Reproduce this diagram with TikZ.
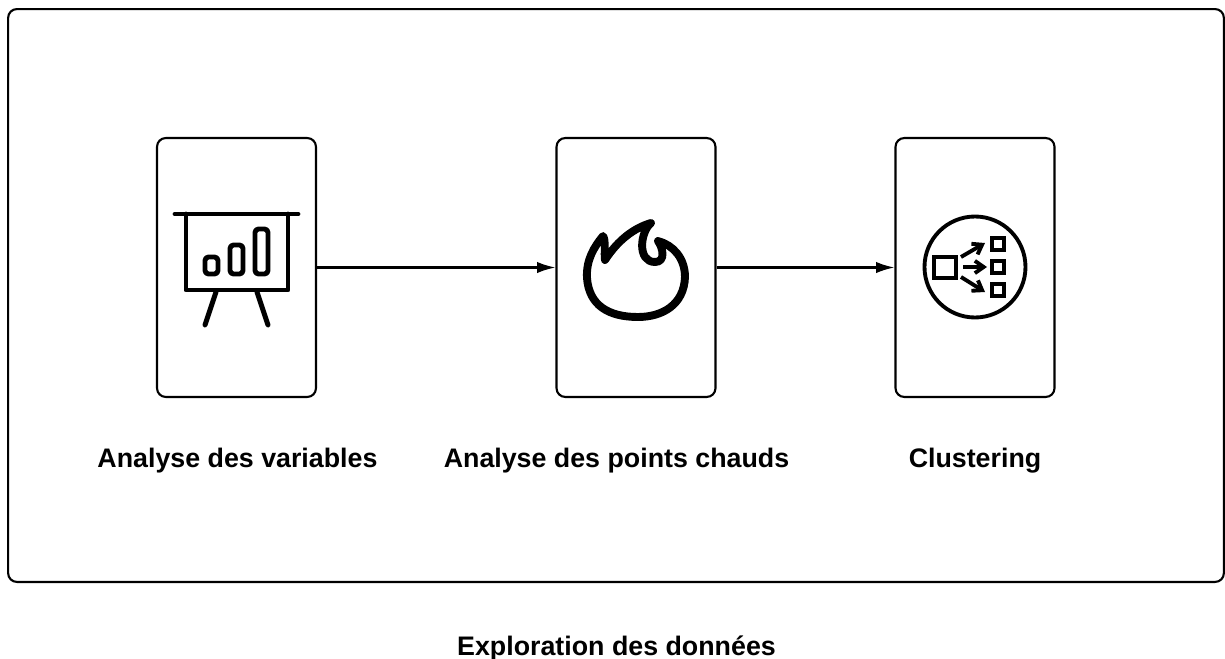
\documentclass[tikz,border=0pt]{standalone}
\usepackage{fontspec}
\setmainfont{Liberation Sans}
\usetikzlibrary{arrows.meta}

\tikzset{
  cadre/.style={draw, line width=1.2pt, rounded corners=5pt, inner sep=0pt},
  carte/.style={cadre, minimum width=3.18cm, minimum height=5.18cm},
  titre/.style={font=\fontsize{15.25}{18}\selectfont\bfseries, inner sep=0pt},
  fleche/.style={line width=1.15pt, -{Latex[length=10.5pt,width=6.5pt]}},
  icone/.style={line width=2.8pt, line cap=round, line join=round},
  iconefine/.style={line width=2.2pt, line join=miter},
}

\begin{document}
\begin{tikzpicture}[x=0.02cm, y=-0.02cm]
    \useasboundingbox (0, 0) rectangle (1225, 659);

    % cadre et cartes
    \node[cadre, minimum width=24.32cm, minimum height=11.46cm] (cadre) at (616, 295.5) {};
    \node[carte] (variables) at (236.5, 267.5) {};
    \node[carte] (points) at (636, 267.5) {};
    \node[carte] (clustering) at (975, 267.5) {};

    % fleches
    \draw[fleche] (variables) -- (points);
    \draw[fleche] (points) -- (clustering);

    % textes
    \node[titre] (tvariables) at (237.5, 461) {Analyse des variables};
    \node[titre] (tpoints) at (616.5, 461) {Analyse des points chauds};
    \node[titre] (tclustering) at (975, 461) {Clustering};
    \node[titre] (tcadre) at (616.5, 648) {Exploration des données};

    % tableau
    \draw[icone] (175, 214) -- (298, 214);
    \draw[icone] (186, 214) -- (186, 290) -- (288, 290) -- (288, 214);
    \draw[icone, rounded corners=2pt] (205, 257) rectangle (218, 274);
    \draw[icone, rounded corners=2pt] (230, 245) rectangle (243, 274);
    \draw[icone, rounded corners=2pt] (255, 229) rectangle (268, 274);
    \draw[icone] (216, 292) -- (205, 325);
    \draw[icone] (257, 292) -- (268, 325);

    % flamme
    \draw[line width=4.5pt, line cap=round, line join=round]
      (603, 236) .. controls (606, 240) and (604, 254) .. (605, 260)
      .. controls (618, 240) and (634, 228) .. (651, 223)
      .. controls (640, 232) and (637, 262) .. (655, 262)
      .. controls (666, 262) and (663, 248) .. (658, 241)
      .. controls (673, 245) and (685, 258) .. (685, 277)
      .. controls (684, 305) and (662, 317) .. (638, 317)
      .. controls (608, 317) and (589, 305) .. (587, 278)
      .. controls (586, 260) and (594, 247) .. (603, 236) -- cycle;

    % clusters
    \draw[iconefine] (975, 267) circle (50.5);
    \draw[iconefine] (934, 257) rectangle (956, 278);
    \draw[iconefine] (992, 238) rectangle (1004, 250);
    \draw[iconefine] (992, 261) rectangle (1004, 273);
    \draw[iconefine] (992, 284) rectangle (1004, 296);
    \draw[iconefine, -{Straight Barb[length=5pt,width=7pt]}] (961, 257) -- (985, 243);
    \draw[iconefine, -{Straight Barb[length=5pt,width=7pt]}] (963, 267) -- (987, 267);
    \draw[iconefine, -{Straight Barb[length=5pt,width=7pt]}] (961, 277) -- (985, 292);

\end{tikzpicture}
\end{document}
